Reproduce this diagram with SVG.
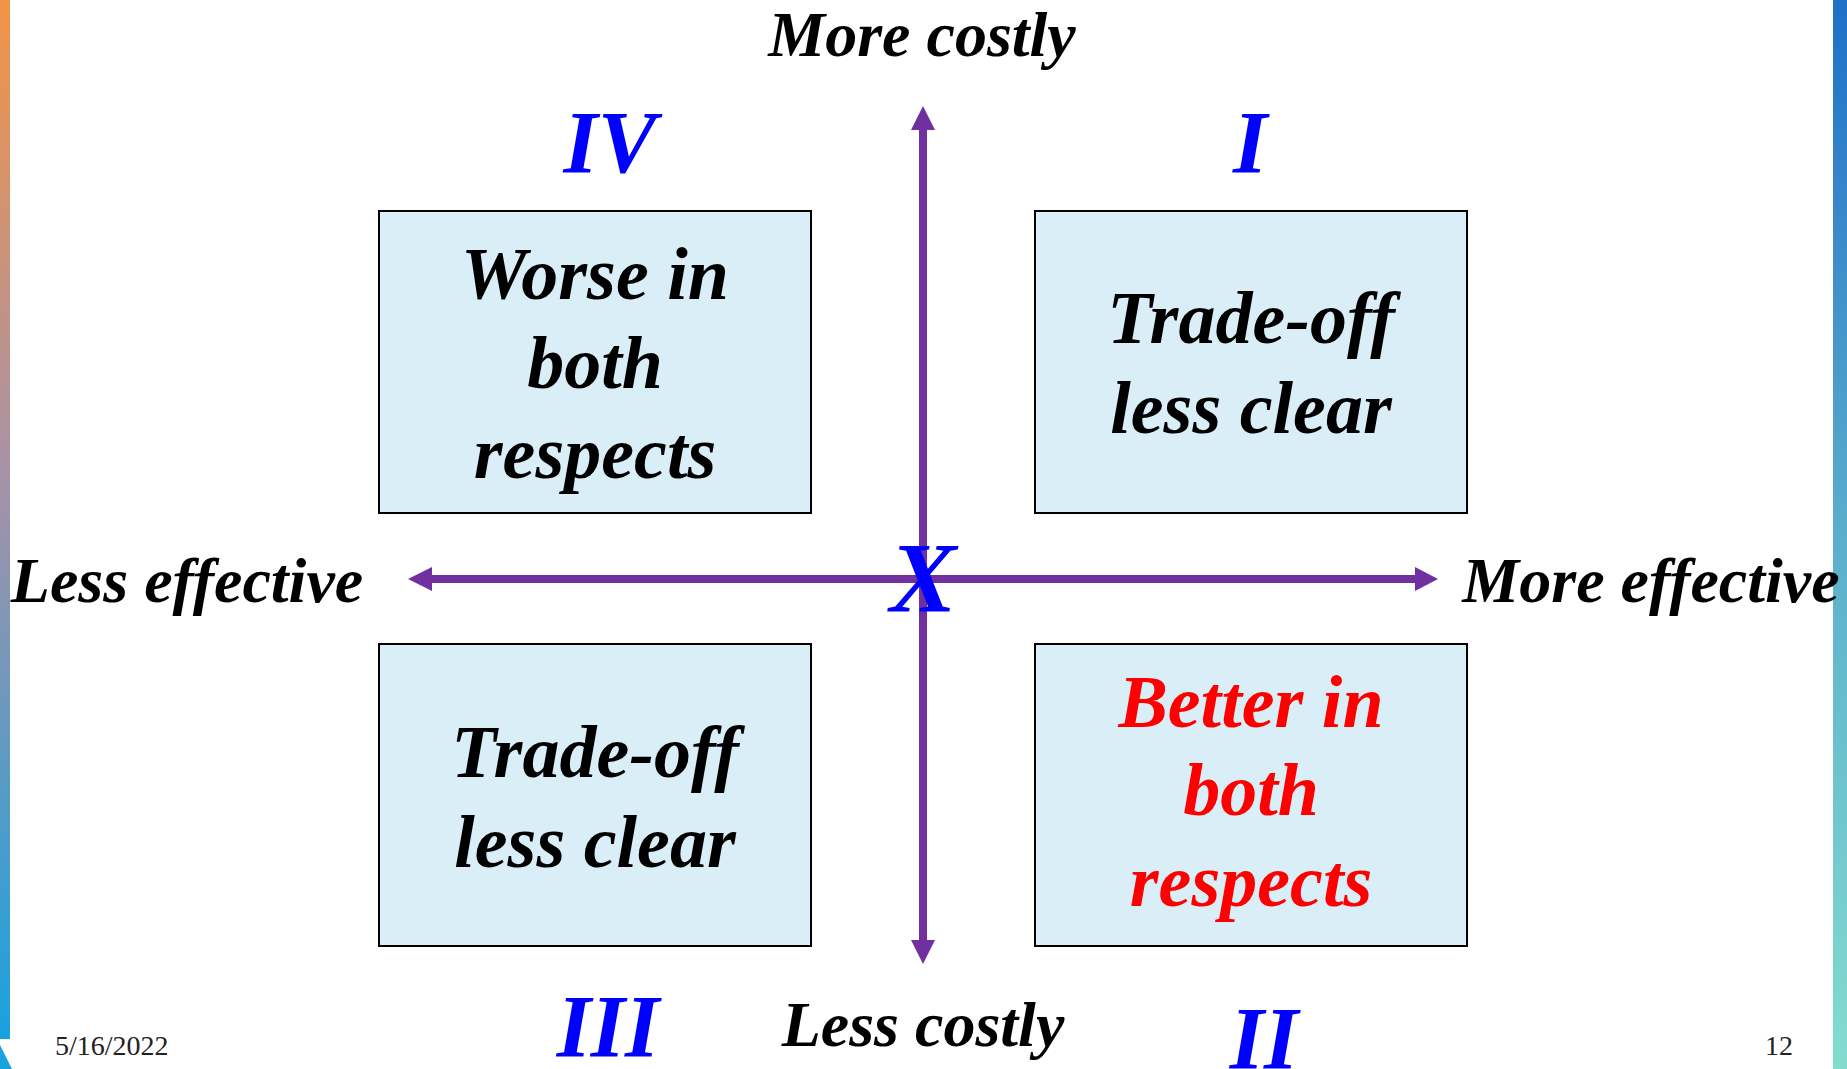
<svg xmlns="http://www.w3.org/2000/svg" width="1847" height="1069" viewBox="0 0 1847 1069">
<defs>
<linearGradient id="lg" x1="0" y1="0" x2="0" y2="1">
<stop offset="0" stop-color="#F29446"/>
<stop offset="0.45" stop-color="#A892A6"/>
<stop offset="1" stop-color="#18A2DE"/>
</linearGradient>
<linearGradient id="rg" x1="0" y1="0" x2="0" y2="1">
<stop offset="0" stop-color="#1F6FC8"/>
<stop offset="0.5" stop-color="#5BAECC"/>
<stop offset="1" stop-color="#84DCCF"/>
</linearGradient>
<style>
.box{fill:#DAEEF7;stroke:#000;stroke-width:2}
.t{font-family:"Liberation Serif","Times New Roman",serif;font-weight:bold;font-style:italic;text-anchor:middle}
.lbl{font-size:64px;fill:#000}
.bt{font-size:74px;fill:#000}
.red{fill:#FF0000}
.num{font-size:88px;fill:#0000FF}
.ax{stroke:#7030A0;stroke-width:8;fill:none}
.ah{fill:#7030A0}
.ft{font-family:"Liberation Serif","Times New Roman",serif;font-size:28px;fill:#222}
</style>
</defs>
<rect width="1847" height="1069" fill="#fff"/>
<rect x="0" y="0" width="10" height="1039" fill="url(#lg)"/>
<polygon points="0,1045 12,1069 0,1069" fill="#18A2DE"/>
<rect x="1833" y="0" width="14" height="1069" fill="url(#rg)"/>

<g id="connectors">
<line class="ax" x1="923" y1="128" x2="923" y2="942"/>
<polygon class="ah" points="923,106 911,130 935,130"/>
<polygon class="ah" points="923,964 911,940 935,940"/>
<line class="ax" x1="430" y1="579" x2="1417" y2="579"/>
<polygon class="ah" points="408,579 432,567 432,591"/>
<polygon class="ah" points="1438,579 1415,567 1415,591"/>
</g>

<g id="box-IV">
<rect class="box" x="379" y="211" width="432" height="302"/>
<text class="t bt" x="595" y="299">Worse in</text>
<text class="t bt" x="595" y="388">both</text>
<text class="t bt" x="595" y="478">respects</text>
</g>
<g id="box-I">
<rect class="box" x="1035" y="211" width="432" height="302"/>
<text class="t bt" x="1251" y="343">Trade-off</text>
<text class="t bt" x="1251" y="433">less clear</text>
</g>
<g id="box-III">
<rect class="box" x="379" y="644" width="432" height="302"/>
<text class="t bt" x="595" y="777">Trade-off</text>
<text class="t bt" x="595" y="867">less clear</text>
</g>
<g id="box-II">
<rect class="box" x="1035" y="644" width="432" height="302"/>
<text class="t bt red" x="1251" y="727">Better in</text>
<text class="t bt red" x="1251" y="815">both</text>
<text class="t bt red" x="1251" y="906">respects</text>
</g>

<g id="labels">
<text class="t lbl" x="922" y="56">More costly</text>
<text class="t lbl" x="923" y="1046">Less costly</text>
<text class="t lbl" x="187" y="602">Less effective</text>
<text class="t lbl" x="1651" y="602">More effective</text>
</g>
<g id="numerals">
<text class="t num" x="610" y="172">IV</text>
<text class="t num" x="1250" y="172">I</text>
<text class="t num" x="608" y="1056">III</text>
<text class="t num" x="1264" y="1068">II</text>
<text class="t" x="923" y="611" style="font-size:100px;fill:#0000FF">X</text>
</g>
<text class="ft" x="55" y="1055">5/16/2022</text>
<text class="ft" x="1793" y="1055" text-anchor="end">12</text>
</svg>
